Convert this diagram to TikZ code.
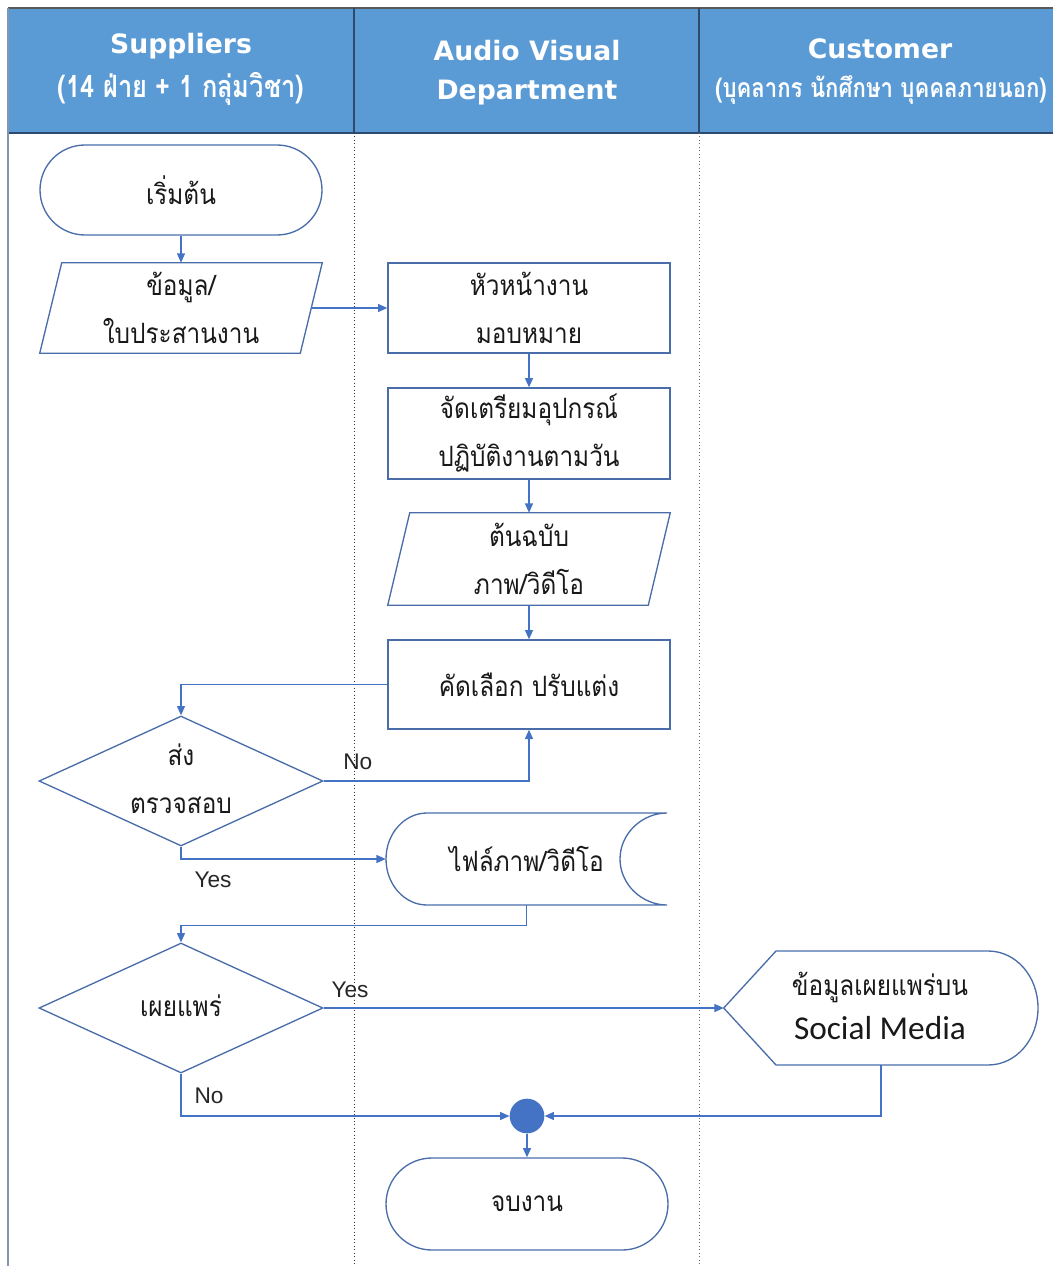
\documentclass[tikz,border=0pt]{standalone}
\usepackage{fontspec}
\setmainfont{Liberation Sans}
\newfontfamily\thaif[Script=Thai,FakeStretch=0.87]{Loma}
\newfontfamily\thaih[Script=Thai,FakeStretch=0.83]{Loma}
\newfontfamily\hdrf{DejaVu Sans}
\newfontfamily\carlf{Carlito}
\usetikzlibrary{shapes.misc,shapes.geometric,calc,arrows.meta}
\definecolor{hdrblue}{HTML}{5B9BD5}
\definecolor{edgeblue}{HTML}{4A6DAA}
\definecolor{arrblue}{HTML}{4472C4}
\definecolor{hdrline}{HTML}{2E4A6E}
\definecolor{borderc}{HTML}{8497B0}
\tikzset{
  shp/.style={draw=edgeblue, line width=1pt},
  ttxt/.style={font=\thaif\fontsize{21}{36}\selectfont, align=center, text=black!90},
  term/.style={shp, rounded rectangle, minimum width=211.5pt, minimum height=67.5pt, inner sep=0pt, ttxt},
  box/.style={shp, rectangle, minimum width=211.5pt, minimum height=67.5pt, inner sep=0pt, ttxt},
  ghost/.style={rectangle, inner sep=0pt, ttxt},
  dia/.style={shp, diamond, minimum width=213pt, minimum height=97.5pt, inner sep=0pt},
  arr/.style={draw=arrblue, line width=1pt, -{Triangle[length=7pt,width=6pt]}},
  lbl/.style={font=\fontsize{17}{19}\selectfont, text=black!85, inner sep=1pt},
  hdrtxt/.style={text=white, align=center},
}
\begin{document}
\begin{tikzpicture}[x=0.75pt,y=-0.75pt]
\useasboundingbox (0,0) rectangle (1053,1266);
% header
\fill[hdrblue] (8,8) rectangle (1053,133);
\draw[hdrline, line width=1.2pt] (8,133) -- (1053,133);
\draw[black!65, line width=1.2pt] (8,8) -- (1053,8);
\draw[borderc, line width=1.2pt] (8,8) -- (8,1266);
\draw[hdrline, line width=1pt] (354,8) -- (354,133);
\draw[hdrline, line width=1pt] (699,8) -- (699,133);
\draw[black!80, line width=0.6pt, dotted] (354,133) -- (354,1266);
\draw[black!60, line width=0.6pt, dotted] (699,133) -- (699,1266);
\node[hdrtxt, font=\hdrf\bfseries\fontsize{20}{22}\selectfont] (h1a) at (181,46) {Suppliers};
\node[hdrtxt, font=\thaih\bfseries\fontsize{23}{26}\selectfont] (h1b) at (181,89) {(14 ฝ่าย + 1 กลุ่มวิชา)};
\node[hdrtxt, font=\hdrf\bfseries\fontsize{20}{22}\selectfont] (h2a) at (527,51) {Audio Visual};
\node[hdrtxt, font=\hdrf\bfseries\fontsize{20}{22}\selectfont] (h2b) at (527,93) {Department};
\node[hdrtxt, font=\hdrf\bfseries\fontsize{20}{22}\selectfont] (h3a) at (880,49) {Customer};
\node[hdrtxt, font=\thaih\bfseries\fontsize{20}{24}\selectfont] (h3b) at (881,90) {(บุคลากร นักศึกษา บุคคลภายนอก)};
% shapes
\node[term] (start) at (181,190) {เริ่มต้น};
\node[ghost, minimum width=195pt, minimum height=67.5pt] (p1) at (181,308) {ข้อมูล/\\ใบประสานงาน};
\draw[shp] ($(p1.north west)+(11,0)$) -- ($(p1.north east)+(11,0)$) -- ($(p1.south east)+(-11,0)$) -- ($(p1.south west)+(-11,0)$) -- cycle;
\node[box] (b1) at (529,308) {หัวหน้างาน\\มอบหมาย};
\node[box, minimum height=68.25pt] (b2) at (529,433.5) {จัดเตรียมอุปกรณ์\\ปฏิบัติงานตามวัน};
\node[ghost, minimum width=195pt, minimum height=69pt] (p2) at (529,559) {ต้นฉบับ\\ภาพ/วิดีโอ};
\draw[shp] ($(p2.north west)+(11,0)$) -- ($(p2.north east)+(11,0)$) -- ($(p2.south east)+(-11,0)$) -- ($(p2.south west)+(-11,0)$) -- cycle;
\node[box, minimum height=66.75pt] (b3) at (529,684.5) {คัดเลือก ปรับแต่ง};
\node[dia] (d1) at (181,781) {};
\node[ttxt] (d1t) at (181,779) {ส่ง\\ตรวจสอบ};
\node[ghost, minimum width=210.75pt, minimum height=69pt] (st) at (526.5,859) {ไฟล์ภาพ/วิดีโอ};
\draw[shp] (427,813) -- (667,813) .. controls (642,813) and (620,833.6) .. (620,859) .. controls (620,884.4) and (642,905) .. (667,905) -- (427,905) .. controls (404.4,905) and (386,884.4) .. (386,859) .. controls (386,833.6) and (404.4,813) .. (427,813) -- cycle;
\node[dia] (d2) at (181,1008) {};
\node[ttxt] (d2t) at (181,1006) {เผยแพร่};
\node[ghost, minimum width=235.5pt, minimum height=85.5pt] (disp) at (881,1008) {};
\draw[shp] (disp.west) -- (776,951) -- (988,951) .. controls (1016,951) and (1038,976.3) .. (1038,1008) .. controls (1038,1039.7) and (1016,1065) .. (988,1065) -- (776,1065) -- cycle;
\node[ttxt] (dispt1) at (880,987) {ข้อมูลเผยแพร่บน};
\node[font=\carlf\fontsize{25}{28}\selectfont, text=black!90] (dispt2) at (880,1028) {Social Media};
\fill[arrblue] (527,1116) circle[radius=13pt];
\node[circle, minimum size=26pt, inner sep=0pt] (j) at (527,1116) {};
\node[term, minimum height=69pt] (end) at (527,1204) {จบงาน};
% connectors
\draw[arr] (start.south) -- (p1.north);
\draw[arr] (p1.east) -- (b1.west);
\draw[arr] (b1.south) -- (b2.north);
\draw[arr] (b2.south) -- (p2.north);
\draw[arr] (p2.south) -- (b3.north);
\draw[arr] (b3.west) -| (d1.north);
\draw[arr] (d1.east) -| (b3.south);
\node[lbl, anchor=south west] (no1) at ($(d1.east)+(18,-10)$) {No};
\draw[arr] (d1.south) |- (st.west);
\node[lbl] (yes1) at (213,880) {Yes};
\draw[arr] (st.south) -- ++(0,20) -| (d2.north);
\draw[arr] (d2.east) -- (disp.west);
\node[lbl] (yes2) at (350,990) {Yes};
\draw[arr] (d2.south) |- (j.west);
\node[lbl] (no2) at (209,1096) {No};
\draw[arr] (disp.south) |- (j.east);
\draw[arr] (j.south) -- (end.north);
\end{tikzpicture}
\end{document}
